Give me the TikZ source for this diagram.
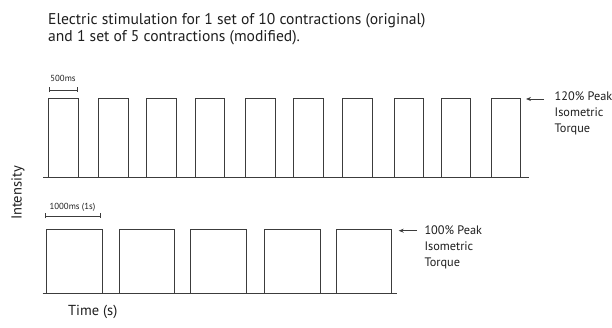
\documentclass[tikz,border=0pt]{standalone}
\usepackage{fontspec}
\setmainfont{PT Sans}
\usetikzlibrary{arrows.meta}
\definecolor{lineclr}{HTML}{3C3C3C}
\definecolor{txtclr}{HTML}{1E1E1E}
\begin{document}
\begin{tikzpicture}[x=1pt,y=-1pt,
  wave/.style={draw=lineclr, line width=1pt},
  scalebar/.style={draw=lineclr, line width=0.8pt, {Bar[width=5pt]}-{Bar[width=5pt]}},
  pointer/.style={draw=lineclr, line width=0.8pt, -{Stealth[length=5pt,width=4pt]}},
  lbl/.style={inner sep=0pt, text=txtclr, align=left},
  title/.style={lbl, font=\fontsize{15.6}{17}\selectfont},
  note/.style={lbl, font=\fontsize{12.3}{16}\selectfont},
  axislbl/.style={lbl, font=\fontsize{14.5}{16}\selectfont},
  small/.style={lbl, font=\fontsize{8.8}{9}\selectfont}]
\useasboundingbox (0,0) rectangle (612,328);

% title
\node[title, anchor=north west] (title) at (48,13)
  {Electric stimulation for 1 set of 10 contractions (original)\\and 1 set of 5 contractions (modified).};

% axis labels
\node[axislbl, rotate=90] (intensity) at (18,193) {Intensity};
\node[axislbl, anchor=west] (time) at (68,311.5) {Time (s)};

% top wave (10 pulses)
\draw[wave] (43,178) -- (528.7,178);
\foreach \a/\b in {48.7/78.7, 98.7/128.3, 146.7/176, 195/224.3, 245/275,
                   293.3/323.3, 342.7/372, 394.3/423.7, 441/470.7, 491/520.3}
  \draw[wave] (\a,178) -- (\a,99) -- (\b,99) -- (\b,178);

% bottom wave (5 pulses)
\draw[wave] (42.7,293.7) -- (396.7,293.7);
\foreach \a/\b in {46/102.3, 119/174.3, 190.7/246.7, 264.3/320, 336/391.7}
  \draw[wave] (\a,293.7) -- (\a,230) -- (\b,230) -- (\b,293.7);

% scale bars
\coordinate (s1a) at (48.7,90);
\coordinate (s1b) at (77.7,90);
\draw[scalebar] (s1a) -- (s1b);
\node[small, anchor=south] (ms500) at (63,82) {500ms};

\coordinate (s2a) at (45.3,216);
\coordinate (s2b) at (101,216);
\draw[scalebar] (s2a) -- (s2b);
\node[small, anchor=south] (ms1000) at (72.5,212) {1000ms (1s)};

% annotations
\node[note, anchor=north west] (peak120) at (554.5,92) {120\% Peak\\Isometric\\Torque};
\coordinate (p120) at (526,99);
\draw[pointer] (544,99) -- (p120);

\node[note, anchor=north west] (peak100) at (424.3,225.3) {100\% Peak\\Isometric\\Torque};
\coordinate (p100) at (398.7,230.7);
\draw[pointer] (417,230.7) -- (p100);
\end{tikzpicture}
\end{document}
